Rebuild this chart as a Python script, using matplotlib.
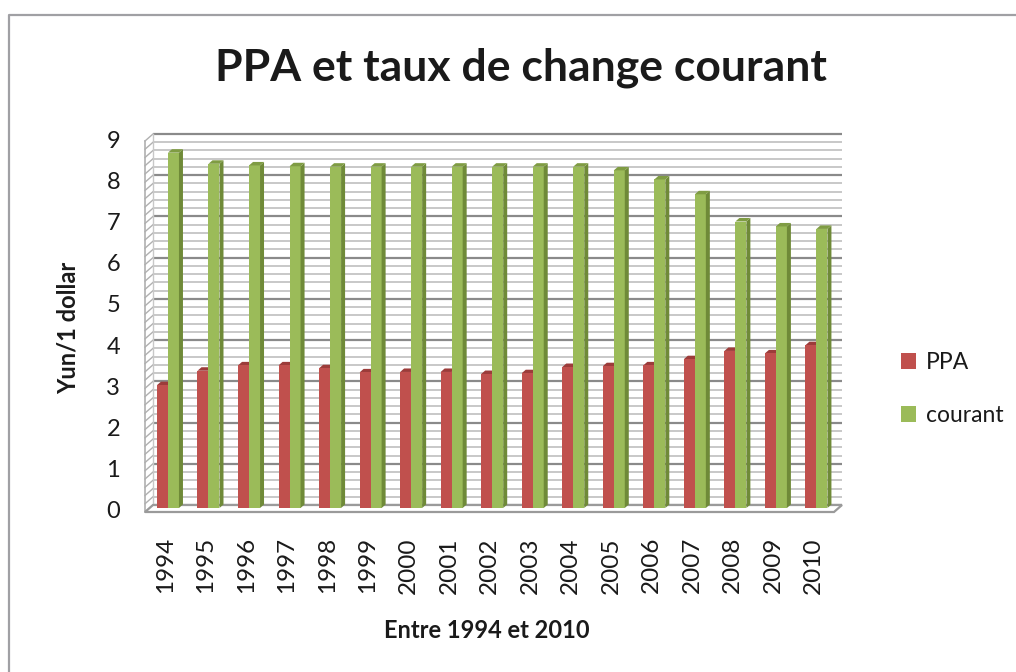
import numpy as np
import matplotlib
matplotlib.use("Agg")
import matplotlib.pyplot as plt
from matplotlib.patches import Polygon
from matplotlib.lines import Line2D
from matplotlib.transforms import ScaledTranslation

plt.rcParams['font.family'] = ['Lato', 'DejaVu Sans']

years = ["1994", "1995", "1996", "1997", "1998", "1999", "2000", "2001", "2002",
         "2003", "2004", "2005", "2006", "2007", "2008", "2009", "2010"]
ppa = [2.98, 3.33, 3.46, 3.46, 3.39, 3.29, 3.30, 3.30, 3.25,
       3.27, 3.42, 3.44, 3.46, 3.61, 3.81, 3.75, 3.95]
courant = [8.62, 8.35, 8.31, 8.29, 8.28, 8.28, 8.28, 8.28, 8.28,
           8.28, 8.28, 8.19, 7.97, 7.61, 6.95, 6.83, 6.77]
yticks = list(range(0, 10))

W, H = 1016, 672
fig = plt.figure(figsize=(W / 100, H / 100), dpi=100)

# outer frame of the chart area (only left and top edges are in view)
fig.add_artist(Line2D([9 / W, 9 / W, 1.0], [0.0, 1 - 15 / H, 1 - 15 / H],
                      transform=fig.transFigure, color="#a0a0a4", lw=1.6))

# back wall of the 3D plot
left, right, top, bottom = 153, 842, 134, 505
ax = fig.add_axes([left / W, 1 - bottom / H, (right - left) / W, (bottom - top) / H])
n = len(years)
ax.set_xlim(-0.5, n - 0.5)
ax.set_ylim(0, 9)
for s in ax.spines.values():
    s.set_visible(False)
ax.set_xticks([])
ax.set_yticks([])
ppx = (right - left) / n
ppy = (bottom - top) / 9.0

# depth offset of the front plane (pixels -> data units)
ddx, ddy = -8 / ppx, -7 / ppy

minor = np.round(np.arange(0, 9.001, 0.2), 1)
for v in minor:
    major = abs(v - round(v)) < 1e-6
    col = "#8a8a8a" if major else "#c4c4c4"
    lw = 1.6 if major else 1.3
    ax.plot([-0.5, n - 0.5], [v, v], color=col, lw=lw, zorder=1, clip_on=False,
            solid_capstyle="butt")
    # side wall diagonals
    ax.plot([-0.5 + ddx, -0.5], [v + ddy, v], color="#b0b0b0", lw=1.0, zorder=1, clip_on=False)

# side wall edges
ax.plot([-0.5 + ddx, -0.5 + ddx], [ddy, 9 + ddy], color="#b0b0b0", lw=1.2, clip_on=False)
ax.plot([-0.5, -0.5], [0, 9], color="#c8c8c8", lw=1.0, clip_on=False)

# floor
floor = Polygon([(-0.5, 0), (n - 0.5, 0), (n - 0.5 + ddx, ddy), (-0.5 + ddx, ddy)],
                closed=True, facecolor="white", edgecolor="#9a9a9a", lw=1.6,
                zorder=2, clip_on=False)
ax.add_patch(floor)

# bars, placed at mid depth
off = ax.transData + ScaledTranslation(-5.3 / 100, -3 / 100, fig.dpi_scale_trans)
x = np.arange(n)
w = 11 / ppx
sw, sh = 4 / ppx, 3.5 / ppy
ax.bar(x - w / 2, ppa, w, color="#c0504d", transform=off, zorder=3, clip_on=False, label="PPA")
ax.bar(x + w / 2, courant, w, color="#9bbb59", transform=off, zorder=3, clip_on=False, label="courant")
for i in range(n):
    x0 = x[i] - w
    ax.add_patch(Polygon([(x0, ppa[i]), (x0 + w, ppa[i]), (x0 + w + sw, ppa[i] + sh),
                          (x0 + sw, ppa[i] + sh)], closed=True, facecolor="#9c3c3a",
                         edgecolor="none", transform=off, zorder=2.9, clip_on=False))
    x1 = x[i] + w
    ax.add_patch(Polygon([(x1, 0), (x1 + sw, sh), (x1 + sw, courant[i] + sh), (x1, courant[i])],
                         closed=True, facecolor="#6f8a38", edgecolor="none",
                         transform=off, zorder=3, clip_on=False))
    ax.add_patch(Polygon([(x[i], courant[i]), (x1, courant[i]), (x1 + sw, courant[i] + sh),
                          (x[i] + sw, courant[i] + sh)], closed=True, facecolor="#7f9c43",
                         edgecolor="none", transform=off, zorder=3, clip_on=False))

# tick labels on the front plane
lab_y = ax.transData + ScaledTranslation(-25 / 100, 0, fig.dpi_scale_trans)
for v in yticks:
    ax.text(-0.5 + ddx, v + ddy, str(v), transform=lab_y, ha="right", va="center",
            fontsize=17, color="#1a1a1a", clip_on=False)
lab_x = ax.transData + ScaledTranslation(0, -25 / 100, fig.dpi_scale_trans)
for i, yr in enumerate(years):
    ax.text(i + ddx, ddy, yr, transform=lab_x, ha="center", va="top", rotation=90,
            fontsize=17.5, color="#1a1a1a", clip_on=False)

fig.text(521 / W, 1 - 68 / H, "PPA et taux de change courant", ha="center", va="center",
         fontsize=32, fontweight="bold", color="#1a1a1a")
fig.text(68 / W, 1 - 328 / H, "Yun/1 dollar", ha="center", va="center", rotation=90,
         fontsize=17, fontweight="bold", color="#1a1a1a")
fig.text(487 / W, 1 - 630 / H, "Entre 1994 et 2010", ha="center", va="center",
         fontsize=17, fontweight="bold", color="#1a1a1a")

fig.legend(loc="center left", bbox_to_anchor=(880 / W, 1 - 389 / H), frameon=False,
           fontsize=16.5, handlelength=0.65, handleheight=0.65, handletextpad=0.45,
           labelspacing=1.4, labelcolor="#1a1a1a")

fig.savefig("out.png", dpi=100)
